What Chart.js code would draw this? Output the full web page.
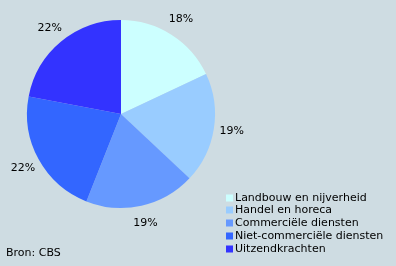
<!DOCTYPE html>
<html lang="nl">
<head>
    <meta charset="UTF-8">
    <title>Werkgelegenheid naar sector</title>
    <script src="https://cdn.jsdelivr.net/npm/chart.js"></script>
    <style>
        html, body { margin: 0; padding: 0; background: #cedce2; }
        #wrap { position: relative; width: 396px; height: 266px; }
    </style>
</head>
<body>
    <div id="wrap">
        <canvas id="pieChart" width="396" height="266"></canvas>
    </div>

    <script>
        const categories = ['Landbouw en nijverheid', 'Handel en horeca', 'Commerciële diensten', 'Niet-commerciële diensten', 'Uitzendkrachten'];
        const shares = [18, 19, 19, 22, 22];
        const colors = ['#ccffff', '#99ccff', '#6699ff', '#3366ff', '#3333ff'];
        const sourceText = 'Bron: CBS';

        const FONT = '11px "DejaVu Sans", Verdana, sans-serif';

        // percentage labels outside each slice + legend + source line
        const extras = {
            id: 'extras',
            afterDraw(chart) {
                const ctx = chart.ctx;
                const arcs = chart.getDatasetMeta(0).data;
                ctx.save();
                ctx.font = FONT;
                ctx.fillStyle = '#000';
                ctx.textAlign = 'center';
                ctx.textBaseline = 'middle';
                arcs.forEach((arc, i) => {
                    const mid = (arc.startAngle + arc.endAngle) / 2;
                    const r = arc.outerRadius + 18;
                    ctx.fillText(shares[i] + '%', arc.x + Math.cos(mid) * r, arc.y + Math.sin(mid) * r);
                });

                // legend
                ctx.textAlign = 'left';
                categories.forEach((c, i) => {
                    const y = Math.round(197.5 + i * 12.75);
                    ctx.fillStyle = colors[i];
                    ctx.fillRect(226, y - 3.5, 7, 7);
                    ctx.fillStyle = '#000';
                    ctx.fillText(c, 235, y);
                });

                ctx.fillText(sourceText, 6, 253);
                ctx.restore();
            }
        };

        new Chart(document.getElementById('pieChart'), {
            type: 'pie',
            data: {
                labels: categories,
                datasets: [{
                    data: shares,
                    backgroundColor: colors,
                    borderWidth: 0
                }]
            },
            options: {
                responsive: false,
                animation: false,
                layout: { padding: { left: 27, right: 181, top: 20, bottom: 58 } },
                plugins: {
                    legend: { display: false },
                    tooltip: { enabled: false }
                }
            },
            plugins: [extras]
        });
    </script>
</body>
</html>
